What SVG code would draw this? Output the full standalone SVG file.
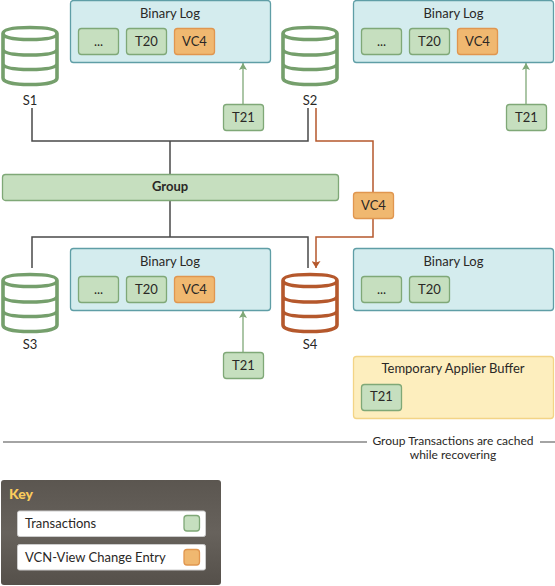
<svg xmlns="http://www.w3.org/2000/svg" width="555" height="586" viewBox="0 0 555 586">
<style>
text{font-family:"Lato","Noto Sans","Liberation Sans",sans-serif;font-size:13px;fill:#2a2826;text-anchor:middle}
.log{fill:#d4ecee;stroke:#5f9ea6;stroke-width:1.3}
.g{fill:#c6dfbf;stroke:#7fa877;stroke-width:1.3}
.o{fill:#f0b870;stroke:#e0964f;stroke-width:1.3}
.buf{fill:#fdeebe;stroke:#f3d486;stroke-width:1.3}
.k{fill:none;stroke:#4a4a4a;stroke-width:1.5}
.a{fill:none;stroke:#b5582c;stroke-width:1.5}
.ga{fill:none;stroke:#7fa877;stroke-width:1.3}
.cg{fill:none;stroke:#759f6c;stroke-width:3.6}
.cr{fill:none;stroke:#b5582c;stroke-width:3.6}
</style>
<defs>
<marker id="ma" markerUnits="userSpaceOnUse" markerWidth="8" markerHeight="9" refX="7" refY="4.5" orient="auto"><path d="M0 0L7 4.5L0 9L1.5 4.5Z" fill="#b5582c"/></marker>
<marker id="mg" markerUnits="userSpaceOnUse" markerWidth="8" markerHeight="8" refX="7" refY="4" orient="auto"><path d="M0 0L7 4L0 8L1.5 4Z" fill="#7fa877"/></marker>
<path id="cyl" d="M3 33.500C3 29 15 27.500 30 27.500S57 29 57 33.500S45 39.500 30 39.500S3 38 3 33.500ZM3 33.500V78C3 82.500 15 84.500 30 84.500S57 82.500 57 78V33.500M3 49C3 53.500 15 55 30 55S57 53.500 57 49M3 63.500C3 68 15 69.500 30 69.500S57 68 57 63.500"/>
<linearGradient id="kg" x1="0" x2="0" y1="0" y2="1"><stop offset="0" stop-color="#5b5650"/><stop offset="0.5" stop-color="#67625c"/><stop offset="1" stop-color="#55504a"/></linearGradient>
</defs>

<g id="connectors">
<path class="k" d="M32 108V141H308V108M170 141V174M170 200V237M32 268V237H308V268"/>
<path class="a" d="M316 108V141H373V192M373 218V237H316V268" marker-end="url(#ma)"/>
<path class="ga" d="M243 104V63" marker-end="url(#mg)"/>
<path class="ga" d="M526 104V63" marker-end="url(#mg)"/>
<path class="ga" d="M243 352V311" marker-end="url(#mg)"/>
<path class="k" d="M3 442H367M540 442H555" style="stroke-width:1.200"/>
</g>

<g id="S1"><use href="#cyl" class="cg"/><text x="30" y="105">S1</text></g>
<g id="S2"><use href="#cyl" class="cg" x="280"/><text x="310" y="105">S2</text></g>
<g id="S3"><use href="#cyl" class="cg" y="247"/><text x="30" y="349">S3</text></g>
<g id="S4"><use href="#cyl" class="cr" x="280" y="247"/><text x="310" y="349">S4</text></g>

<g id="log1">
<rect class="log" x="70.500" y="0.500" width="200" height="62" rx="3"/>
<text x="170" y="18">Binary Log</text>
<rect class="g" x="78.500" y="28.500" width="40" height="26" rx="3"/><text x="98.500" y="46">...</text>
<rect class="g" x="126.500" y="28.500" width="40" height="26" rx="3"/><text x="146.500" y="46">T20</text>
<rect class="o" x="174.500" y="28.500" width="40" height="26" rx="3"/><text x="194.500" y="46">VC4</text>
</g>
<g id="log2">
<rect class="log" x="353.500" y="0.500" width="200" height="62" rx="3"/>
<text x="453.500" y="18">Binary Log</text>
<rect class="g" x="361.500" y="28.500" width="40" height="26" rx="3"/><text x="381.500" y="46">...</text>
<rect class="g" x="409.500" y="28.500" width="40" height="26" rx="3"/><text x="429.500" y="46">T20</text>
<rect class="o" x="457.500" y="28.500" width="40" height="26" rx="3"/><text x="477.500" y="46">VC4</text>
</g>
<g id="log3">
<rect class="log" x="70.500" y="248.500" width="200" height="62" rx="3"/>
<text x="170" y="266">Binary Log</text>
<rect class="g" x="78.500" y="276.500" width="40" height="26" rx="3"/><text x="98.500" y="294">...</text>
<rect class="g" x="126.500" y="276.500" width="40" height="26" rx="3"/><text x="146.500" y="294">T20</text>
<rect class="o" x="174.500" y="276.500" width="40" height="26" rx="3"/><text x="194.500" y="294">VC4</text>
</g>
<g id="log4">
<rect class="log" x="353.500" y="248.500" width="200" height="62" rx="3"/>
<text x="453.500" y="266">Binary Log</text>
<rect class="g" x="361.500" y="276.500" width="40" height="26" rx="3"/><text x="381.500" y="294">...</text>
<rect class="g" x="409.500" y="276.500" width="40" height="26" rx="3"/><text x="429.500" y="294">T20</text>
</g>

<g id="t21a"><rect class="g" x="223.500" y="104.500" width="40" height="26" rx="3"/><text x="243.500" y="122">T21</text></g>
<g id="t21b"><rect class="g" x="506.500" y="104.500" width="40" height="26" rx="3"/><text x="526.500" y="122">T21</text></g>
<g id="t21c"><rect class="g" x="223.500" y="352.500" width="40" height="26" rx="3"/><text x="243.500" y="370">T21</text></g>

<g id="group"><rect class="g" x="2.500" y="174.500" width="336" height="26" rx="3"/><text x="170" y="191" style="font-weight:700">Group</text></g>
<g id="vc4"><rect class="o" x="353.500" y="192.500" width="40" height="26" rx="3"/><text x="373.500" y="210">VC4</text></g>

<g id="buffer">
<rect class="buf" x="353.500" y="356.500" width="200" height="62" rx="3"/>
<text x="453" y="373">Temporary Applier Buffer</text>
<rect class="g" x="361.500" y="384.500" width="40" height="26" rx="3"/><text x="381.500" y="401">T21</text>
</g>

<g id="note"><text x="453" y="445" style="font-size:12px">Group Transactions are cached</text><text x="453" y="459" style="font-size:12px">while recovering</text></g>

<g id="key">
<rect x="1" y="480" width="220" height="105" rx="3" fill="url(#kg)"/>
<text x="9" y="499" style="font-weight:900;font-size:14px;fill:#fbcb5c;text-anchor:start">Key</text>
<rect x="17.500" y="511" width="188" height="25.500" rx="2" fill="#fff" stroke="#ccc" stroke-width="1"/>
<text x="25" y="528" style="text-anchor:start">Transactions</text>
<rect class="g" x="184" y="515.500" width="15.500" height="15.500" rx="3"/>
<rect x="17.500" y="544.500" width="188" height="25.500" rx="2" fill="#fff" stroke="#ccc" stroke-width="1"/>
<text x="25" y="561.500" style="text-anchor:start">VCN-View Change Entry</text>
<rect class="o" x="184" y="549.500" width="15.500" height="15.500" rx="3"/>
</g>
</svg>
